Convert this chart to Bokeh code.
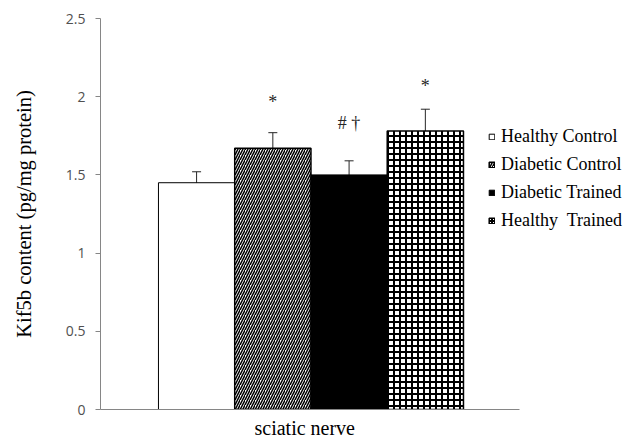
from bokeh.plotting import figure
from bokeh.models import (ColumnDataSource, Range1d, Whisker, Legend, LegendItem,
                          FixedTicker, Title)
from bokeh.core.properties import value
from bokeh.embed import file_html
from bokeh.resources import INLINE

# ---- data ----
groups = ["Healthy Control", "Diabetic Control", "Diabetic Trained", "Healthy  Trained"]
means = [1.45, 1.67, 1.50, 1.78]
errors = [0.07, 0.10, 0.09, 0.14]
annot_groups = ["Diabetic Control", "Diabetic Trained", "Healthy  Trained"]
annot_text = ["*", "# \u2020", "*"]
annot_y = [1.966, 1.835, 2.068]
y_ticks = [0, 0.5, 1, 1.5, 2, 2.5]
y_tick_labels = ["0", "0.5", "1", "1.5", "2", "2.5"]
x_title = "sciatic nerve"
y_title = "Kif5b content (pg/mg protein)"

# ---- styles ----
fills = ["white", "white", "black", "white"]
hatches = [" ", "right_diagonal_line", " ", "cross"]
hatch_scales = [6, 5, 6, 6]
hatch_weights = [1, 1.5, 1, 2]
line_widths = [1, 1.5, 1, 1.5]
SERIF = "Liberation Serif"

xs = list(range(len(groups)))
pad_left, pad_right = 1.26, 1.24

p = figure(width=627, height=443, output_backend="svg", toolbar_location=None,
           x_range=Range1d(xs[0] - pad_left, 5.651), y_range=(0, 2.5),
           min_border_left=100, min_border_right=0, min_border_top=18, min_border_bottom=34)
p.outline_line_color = None
p.xgrid.grid_line_color = None
p.ygrid.grid_line_color = None

items = []
for i, g in enumerate(groups):
    src = ColumnDataSource(dict(x=[xs[i]], top=[means[i]]))
    r = p.vbar(x="x", top="top", bottom=0, width=1.0, source=src,
               fill_color=fills[i], line_color="black", line_width=line_widths[i],
               hatch_pattern=hatches[i], hatch_color="black",
               hatch_scale=hatch_scales[i], hatch_weight=hatch_weights[i])
    items.append(LegendItem(label=g, renderers=[r]))

err_src = ColumnDataSource(dict(x=xs,
                                upper=[m + e for m, e in zip(means, errors)],
                                lower=[m - e for m, e in zip(means, errors)]))
w = Whisker(base="x", upper="upper", lower="lower", source=err_src,
            line_color="#262626", line_width=1)
w.upper_head.size = 9
w.lower_head.size = 9
w.upper_head.line_color = "#262626"
w.lower_head.line_color = "#262626"
p.add_layout(w)

ann_src = ColumnDataSource(dict(x=[xs[groups.index(g)] for g in annot_groups],
                                y=annot_y, t=annot_text))
p.text(x="x", y="y", text="t", source=ann_src, text_align="center",
       text_baseline="middle", text_font=value(SERIF), text_font_size="18px",
       text_color="#262626")

legend = Legend(items=items, location=(388, 178), padding=0, margin=0,
                spacing=7, label_height=20, glyph_width=7, glyph_height=7,
                label_standoff=6, label_text_font=SERIF, label_text_font_size="18px",
                label_text_color="black", background_fill_alpha=0,
                border_line_color=None)
p.add_layout(legend)

# y axis
p.yaxis.ticker = FixedTicker(ticks=y_ticks)
p.yaxis.major_label_overrides = {t: l for t, l in zip(y_ticks, y_tick_labels)}
p.yaxis.minor_tick_line_color = None
p.yaxis.major_tick_in = 0
p.yaxis.major_tick_out = 5
p.yaxis.axis_line_color = "#868686"
p.yaxis.major_tick_line_color = "#868686"
p.yaxis.major_label_text_font = "Open Sans"
p.yaxis.major_label_text_font_size = "14px"
p.yaxis.major_label_text_color = "#505050"
p.yaxis.major_label_standoff = 10
p.yaxis.axis_label = y_title
p.yaxis.axis_label_text_font = SERIF
p.yaxis.axis_label_text_font_size = "20.5px"
p.yaxis.axis_label_text_font_style = "normal"
p.yaxis.axis_label_text_color = "black"
p.yaxis.axis_label_standoff = 28

# x axis (line limited to the bar area)
p.xaxis.bounds = (xs[0] - pad_left, xs[-1] + pad_right)
p.xaxis.ticker = FixedTicker(ticks=[])
p.xaxis.axis_line_color = "#868686"
p.xaxis.major_tick_line_color = None
p.xaxis.minor_tick_line_color = None
p.xaxis.major_tick_out = 0
p.xaxis.major_tick_in = 0
p.xaxis.major_label_text_font_size = "0px"
p.xaxis.major_label_standoff = 0

p.add_layout(Title(text=x_title, align="left", offset=154, standoff=10,
                   text_font=SERIF, text_font_size="20px",
                   text_font_style="normal", text_color="black"), "below")

open("out.html", "w").write(file_html(p, INLINE))
